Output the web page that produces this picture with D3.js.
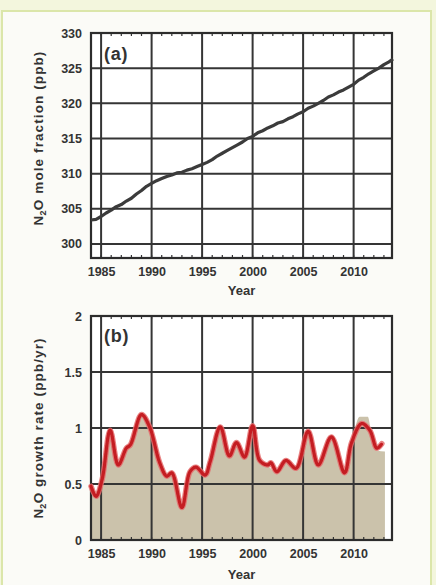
<!DOCTYPE html>
<html>
<head>
<meta charset="utf-8">
<script src="https://cdn.jsdelivr.net/npm/d3@7"></script>
<style>
  html, body { margin: 0; padding: 0; background: #f3f6dd; }
  svg { display: block; }
  text { font-family: "Liberation Sans", Arial, sans-serif; }
</style>
</head>
<body>
<svg id="chart" width="436" height="585"></svg>
<script>
// Panel (a): N2O mole fraction (ppb)
const moleYears = [1984.0,1984.5,1985.0,1985.5,1986.0,1986.5,1987.0,1987.5,1988.0,1988.5,
  1989.0,1989.5,1990.0,1990.5,1991.0,1991.5,1992.0,1992.5,1993.0,1993.5,1994.0,1994.5,
  1995.0,1995.5,1996.0,1996.5,1997.0,1997.5,1998.0,1998.5,1999.0,1999.5,2000.0,2000.5,
  2001.0,2001.5,2002.0,2002.5,2003.0,2003.5,2004.0,2004.5,2005.0,2005.5,2006.0,2006.5,
  2007.0,2007.5,2008.0,2008.5,2009.0,2009.5,2010.0,2010.5,2011.0,2011.5,2012.0,2012.5,
  2013.0,2013.5,2013.9];
const moleValues = [303.4,303.5,303.9,304.4,304.8,305.3,305.6,306.1,306.5,307.1,
  307.6,308.2,308.6,309.0,309.3,309.6,309.8,310.1,310.2,310.5,310.7,311.0,
  311.3,311.6,312.0,312.5,312.9,313.3,313.7,314.1,314.5,315.0,315.3,315.8,
  316.1,316.5,316.8,317.2,317.4,317.8,318.1,318.5,318.8,319.3,319.6,320.0,
  320.4,320.9,321.2,321.6,321.9,322.3,322.7,323.3,323.7,324.2,324.6,325.0,
  325.5,325.9,326.3];

// Panel (b): N2O growth rate (ppb/yr), smoothed curve
const rateYears = [1984.0,1984.5,1985.1,1985.9,1986.7,1987.5,1987.9,1989.0,1989.8,1990.8,
  1991.5,1992.0,1993.0,1993.8,1994.4,1995.3,1995.8,1996.8,1997.7,1998.4,1999.2,2000.0,
  2000.7,2001.5,2001.8,2002.4,2003.3,2004.3,2005.5,2006.5,2007.8,2009.1,2009.8,2010.8,
  2011.6,2012.3,2012.8];
const rateValues = [0.48,0.39,0.54,0.98,0.67,0.82,0.85,1.12,1.01,0.69,
  0.57,0.60,0.29,0.61,0.65,0.58,0.70,1.01,0.75,0.87,0.74,1.02,
  0.71,0.67,0.69,0.61,0.71,0.64,0.97,0.67,0.92,0.60,0.87,1.04,
  0.98,0.82,0.86];

// Panel (b): annual growth rate shown as shaded area
const fillYears = [1984.0,1984.5,1985.0,1985.5,1985.9,1986.7,1987.5,1988.0,1989.0,1989.8,
  1990.8,1991.5,1992.0,1993.0,1993.8,1994.4,1995.3,1996.8,1997.7,1998.4,1999.2,2000.0,
  2000.7,2001.5,2002.4,2003.3,2004.3,2005.5,2006.5,2007.8,2009.1,2009.8,2010.6,2011.4,
  2011.8,2012.3,2013.1];
const fillValues = [0.46,0.40,0.50,0.85,0.97,0.68,0.82,0.88,1.10,1.00,
  0.68,0.57,0.59,0.28,0.60,0.64,0.58,1.00,0.74,0.86,0.73,1.00,
  0.70,0.66,0.60,0.70,0.63,0.96,0.66,0.91,0.59,0.86,1.10,1.10,
  0.93,0.80,0.79];

const yearTicks = [1985, 1990, 1995, 2000, 2005, 2010];
const moleTicks = [300, 305, 310, 315, 320, 325, 330];
const rateTicks = [0, 0.5, 1, 1.5, 2];
const rateTickLabels = ["0", "0.5", "1", "1.5", "2"];

const svg = d3.select("#chart");

// page card
svg.append("rect").attr("x", 2).attr("y", 11).attr("width", 429).attr("height", 580)
  .attr("fill", "#fbfbf7").attr("stroke", "#dbe6aa").attr("stroke-width", 2);

const left = 91, right = 392;
const x = d3.scaleLinear().domain([1984, 2013.8]).range([left, right]);
const yTop = d3.scaleLinear().domain([298, 330]).range([258, 33]);
const yBot = d3.scaleLinear().domain([0, 2]).range([540, 316]);

const ink = "#333";
const gridColor = "#353535";
const minorYears = d3.range(1984, 2014);

function panel(y) {
  const g = svg.append("g");
  const [y0, y1] = y.range();
  g.append("rect").attr("x", left).attr("y", y1).attr("width", right - left).attr("height", y0 - y1)
    .attr("fill", "#ffffff");
  return g;
}

function decorate(g, y, yTicks, yLabels, titleParts, titleY, label, labelY, yearTitleY) {
  const [y0, y1] = y.range();
  // gridlines
  g.selectAll(".vg").data(yearTicks).join("line")
    .attr("x1", d => x(d)).attr("x2", d => x(d)).attr("y1", y1).attr("y2", y0)
    .attr("stroke", gridColor).attr("stroke-width", 2);
  g.selectAll(".hg").data(yTicks).join("line")
    .attr("x1", left).attr("x2", right).attr("y1", d => y(d)).attr("y2", d => y(d))
    .attr("stroke", gridColor).attr("stroke-width", 2);
  // minor year ticks on top and bottom edges
  g.selectAll(".mt").data(minorYears).join("line")
    .attr("x1", d => x(d)).attr("x2", d => x(d)).attr("y1", y1).attr("y2", y1 + 3)
    .attr("stroke", gridColor).attr("stroke-width", 1.2);
  g.selectAll(".mb").data(minorYears).join("line")
    .attr("x1", d => x(d)).attr("x2", d => x(d)).attr("y1", y0).attr("y2", y0 - 3)
    .attr("stroke", gridColor).attr("stroke-width", 1.2);
  // frame
  g.append("rect").attr("x", left).attr("y", y1).attr("width", right - left).attr("height", y0 - y1)
    .attr("fill", "none").attr("stroke", "#2c2c2c").attr("stroke-width", 2.2);

  // x axis labels
  const xa = g.append("g").attr("transform", `translate(0,${y0 + 6})`)
    .call(d3.axisBottom(x).tickValues(yearTicks).tickSize(0).tickFormat(d3.format("d")));
  xa.select(".domain").remove();
  xa.selectAll("text").attr("font-size", 12.5).attr("font-weight", "bold").attr("fill", ink)
    .attr("font-family", "Liberation Sans, Arial, sans-serif");

  // y axis labels
  const ya = g.append("g").attr("transform", `translate(${left - 6},0)`)
    .call(d3.axisLeft(y).tickValues(yTicks).tickSize(0).tickFormat((d, i) => yLabels[i]));
  ya.select(".domain").remove();
  ya.selectAll("text").attr("font-size", 12.5).attr("font-weight", "bold").attr("fill", ink)
    .attr("font-family", "Liberation Sans, Arial, sans-serif");

  // axis titles
  g.append("text").attr("x", (left + right) / 2).attr("y", yearTitleY).attr("text-anchor", "middle")
    .attr("font-size", 13).attr("font-weight", "bold").attr("fill", ink).text("Year");

  const t = g.append("text")
    .attr("transform", `translate(43,${titleY}) rotate(-90)`)
    .attr("text-anchor", "middle").attr("font-size", 13.5).attr("font-weight", "bold")
    .attr("fill", ink);
  t.append("tspan").attr("letter-spacing", 0.2).text("N");
  t.append("tspan").attr("font-size", 9).attr("dy", 3).attr("letter-spacing", 0.3).text("2");
  t.append("tspan").attr("dy", -3).attr("letter-spacing", 1.1).text(titleParts);

  // panel label
  g.append("text").attr("x", 104).attr("y", labelY).attr("font-size", 18).attr("font-weight", "bold")
    .attr("letter-spacing", 0.8).attr("fill", ink).text(label);
}

// ---- Panel (a)
const ga = panel(yTop);
decorate(ga, yTop, moleTicks, moleTicks.map(String),
  "O mole fraction (ppb)", 138, "(a)", 60, 295);

const moleLine = d3.line().x((d, i) => x(moleYears[i])).y(d => yTop(d)).curve(d3.curveLinear);
ga.append("path").datum(moleValues).attr("d", moleLine)
  .attr("fill", "none").attr("stroke", "#3b3b3b").attr("stroke-width", 3.2)
  .attr("stroke-linejoin", "round");

// ---- Panel (b)
const gb = panel(yBot);
const area = d3.area().x((d, i) => x(fillYears[i])).y0(yBot(0)).y1(d => yBot(d))
  .curve(d3.curveMonotoneX);
gb.append("path").datum(fillValues).attr("d", area).attr("fill", "#cbc2ab");
decorate(gb, yBot, rateTicks, rateTickLabels, "O growth rate (ppb/yr)", 428, "(b)", 342, 579);

const rateLine = d3.line().x((d, i) => x(rateYears[i])).y(d => yBot(d)).curve(d3.curveCatmullRom);
gb.append("path").datum(rateValues).attr("d", rateLine)
  .attr("fill", "none").attr("stroke", "#e46c6c").attr("stroke-width", 5.5).attr("stroke-opacity", 0.85)
  .attr("stroke-linecap", "round");
gb.append("path").datum(rateValues).attr("d", rateLine)
  .attr("fill", "none").attr("stroke", "#c41d22").attr("stroke-width", 3.2)
  .attr("stroke-dasharray", "1.6 1").attr("stroke-linecap", "round");
</script>
</body>
</html>
